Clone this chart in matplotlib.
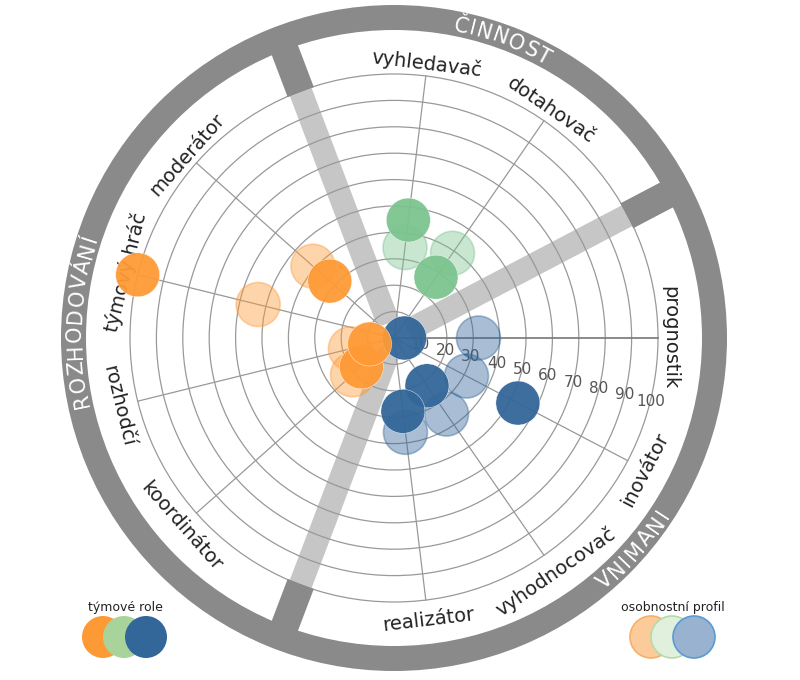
import numpy as np
import matplotlib.pyplot as plt
from matplotlib.patches import Circle, Wedge, Polygon
from matplotlib.font_manager import FontProperties

# role order goes clockwise from "prognostik"; 13 slots, 3 are separators
roles = ['prognostik', 'inovátor', 'vyhodnocovač', 'realizátor',
         'koordinátor', 'rozhodčí', 'týmový hráč', 'moderátor',
         'vyhledavač', 'dotahovač']
slots = [0, 1, 2, 3, 5, 6, 7, 8, 10, 11]
groups = ['vnimani'] * 4 + ['rozhodovani'] * 4 + ['cinnost'] * 2
team_values = [4, 53, 22, 28, 16.5, 9.5, 100, 32.5, 45, 28]
profile_values = [32, 31, 35, 36, 21, 17, 53, 41, 34.5, 39]

separator_slots = [4, 9, 12]
sector_names = ['VNIMANI', 'ROZHODOVÁNÍ', 'ČINNOST']
sector_centres = [-41.5, 177.0, 70.0]     # degrees
sector_ccw = [True, False, False]
ticks = [10, 20, 30, 40, 50, 60, 70, 80, 90, 100]

colors = {'rozhodovani': '#fe9a36', 'cinnost': '#7cc48f', 'vnimani': '#336699'}
draw_order = ['vnimani', 'cinnost', 'rozhodovani']

N_SLOTS = 13
STEP = 360.0 / N_SLOTS

# layout: pixels per value unit, centre of the wheel in pixels
PX = 2.64
CX, CY = 394, 338
R_OUT = 333 / PX
R_IN = 308 / PX


def to_xy(r, deg):
    a = np.deg2rad(deg)
    return r * np.cos(a), r * np.sin(a)


def px(x, y):
    return (x - CX) / PX, (CY - y) / PX


def slot_angle(s):
    return -s * STEP


def bar(ax, deg, r0, r1, w, color, z):
    a = np.deg2rad(deg)
    d = np.array([np.cos(a), np.sin(a)])
    n = np.array([-np.sin(a), np.cos(a)])
    pts = [r0 * d + n * w / 2, r1 * d + n * w / 2, r1 * d - n * w / 2, r0 * d - n * w / 2]
    ax.add_patch(Polygon(pts, closed=True, color=color, lw=0, zorder=z))


fig = plt.figure(figsize=(8, 6.8), dpi=100)
ax = fig.add_axes([0, 0, 1, 1])
ax.set_xlim(-CX / PX, (800 - CX) / PX)
ax.set_ylim(-(680 - CY) / PX, CY / PX)
ax.axis('off')

# outer ring + separators
ring_col = '#8a8a8a'
ax.add_patch(Wedge((0, 0), R_OUT, 0, 360, width=R_OUT - R_IN, color=ring_col, lw=0, zorder=3))
for s in separator_slots:
    deg = slot_angle(s)
    bar(ax, deg, 99.6, R_IN + 1, 10.6, ring_col, 3)
    bar(ax, deg, 6, 99.6, 8.8, '#c6c6c6', 1)

# grid
for t in ticks:
    ax.add_patch(Circle((0, 0), t, fill=False, ec='#999999', lw=0.9, zorder=2))
for s, role in zip(slots, roles):
    x, y = to_xy(100, slot_angle(s))
    ax.plot([0, x], [0, y], color='#777777' if s == 0 else '#999999',
            lw=1.2 if s == 0 else 0.9, zorder=2)

# tick labels along the middle between first two spokes
tick_deg = -STEP / 2
for t in ticks:
    x, y = to_xy(t, tick_deg)
    ax.text(x, y, str(t), ha='center', va='center', fontsize=11, color='#555555', zorder=4)

# role labels
for s, role in zip(slots, roles):
    deg = slot_angle(s) % 360
    if deg < 180 or deg > 359:
        rot, r = deg - 90, 104.5
    else:
        rot, r = deg + 90, 107.5
    x, y = to_xy(r, deg)
    ax.text(x, y, role, rotation=rot, rotation_mode='anchor', ha='center', va='center',
            fontsize=14, color='#222222', zorder=4)

# sector names curved along the ring
renderer = fig.canvas.get_renderer()
fs = 15
fp = FontProperties(family='DejaVu Sans', size=fs)
cap = 0.73 * fs * 100 / 72
track = 1.5
r_mid_px = (R_OUT + R_IN) / 2 * PX
for name, centre, ccw in zip(sector_names, sector_centres, sector_ccw):
    widths = [renderer.get_text_width_height_descent(ch, fp, ismath=False)[0] for ch in name]
    total = sum(widths) + track * (len(name) - 1)
    pos = 0
    for ch, w in zip(name, widths):
        off = np.rad2deg((pos + w / 2 - total / 2) / r_mid_px)
        pos += w + track
        if ccw:
            th = centre + off
            rot = th + 90
            rr = (r_mid_px + cap / 2) / PX
        else:
            th = centre - off
            rot = th - 90
            rr = (r_mid_px - cap / 2) / PX
        x, y = to_xy(rr, th)
        ax.text(x, y, ch, rotation=rot, rotation_mode='anchor', ha='center', va='baseline',
                fontproperties=fp, color='white', zorder=5)

# data circles
rad = 22 / PX
for g in draw_order:
    for s, grp, tv, pv in zip(slots, groups, team_values, profile_values):
        if grp != g:
            continue
        ax.add_patch(Circle(to_xy(pv, slot_angle(s)), rad, fc=colors[g], ec=colors[g],
                            alpha=0.42, lw=1.2, zorder=6))
    for s, grp, tv, pv in zip(slots, groups, team_values, profile_values):
        if grp != g:
            continue
        ax.add_patch(Circle(to_xy(tv, slot_angle(s)), rad, fc=colors[g], ec='white',
                            alpha=0.95, lw=0.3, zorder=7))

# legends
lr = 21 / PX
ax.text(*px(125, 607), 'týmové role', ha='center', va='center', fontsize=9, color='#222222')
for xp, c in zip([103, 124, 146], ['#fd9a35', '#a8d49c', '#336699']):
    ax.add_patch(Circle(px(xp, 637), lr, fc=c, ec='none', zorder=6))
ax.text(*px(673, 607), 'osobnostní profil', ha='center', va='center', fontsize=9, color='#222222')
for xp, fc, ec in zip([651, 672, 694], ['#fccb9a', '#e1f0dd', '#98b2cf'],
                      ['#f5b069', '#b5dba9', '#5a9bd5']):
    ax.add_patch(Circle(px(xp, 637), lr, fc=fc, ec=ec, lw=1.2, zorder=6))

fig.savefig('out.png', dpi=100, facecolor='white')
